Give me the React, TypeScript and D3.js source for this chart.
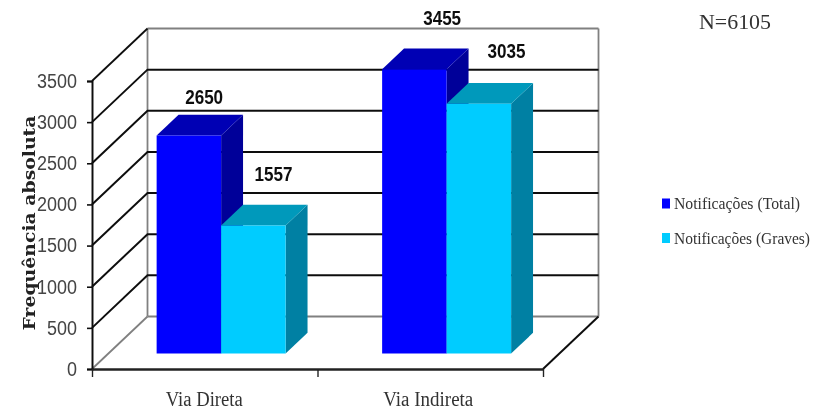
import React, { useRef, useEffect } from "react";
import * as d3 from "d3";

const categories = ["Via Direta", "Via Indireta"];
const seriesNames = ["Notificações (Total)", "Notificações (Graves)"];
const totalValues = [2650, 3455];
const gravesValues = [1557, 3035];
const yTicks = [0, 500, 1000, 1500, 2000, 2500, 3000, 3500];
const seriesColors = [
  { front: "#0000ff", top: "#0000b4", side: "#000099" },
  { front: "#00ccff", top: "#0099bb", side: "#0080a3" },
];

const width = 825;
const height = 411;
// 3d box depth, in pixels
const depthX = 55.5;
const depthY = 52.5;
const barDepthStart = 0.295;
const barDepthEnd = 0.69;

// the value labels were hand placed in the original chart, so each has its own
// nudge from the bar's left edge (x) and from the back of its top face (y)
const labelNudge = [
  [
    [47.5, -11],
    [60, -23],
  ],
  [
    [52.5, -24],
    [60, -25.5],
  ],
];

const App = () => {
  const svgRef = useRef<SVGSVGElement>(null);

  useEffect(() => {
    const svg = d3.select(svgRef.current);
    svg.selectAll("*").remove();

    const x = d3.scaleBand().domain(categories).range([92, 543]);
    const y = d3.scaleLinear().domain([0, 3500]).range([369, 81]);
    const sub = d3
      .scaleBand()
      .domain(seriesNames)
      .range([x.bandwidth() * 0.214, x.bandwidth() * 0.786]);

    // project a point from chart space, depth 0 is the front and 1 the back wall
    const px = (xv: number, d: number) => xv + d * depthX;
    const py = (v: number, d: number) => y(v) - d * depthY;
    const poly = d3.line();

    const root = svg.append("g").attr("filter", "url(#soft)");
    const defs = svg.append("defs");
    defs
      .append("filter")
      .attr("id", "soft")
      .append("feGaussianBlur")
      .attr("stdDeviation", 0.5);

    const x0 = 92;
    const x1 = 543;

    // back wall and floor
    const greyLine = (a: number[], b: number[]) =>
      root
        .append("line")
        .attr("x1", a[0])
        .attr("y1", a[1])
        .attr("x2", b[0])
        .attr("y2", b[1])
        .attr("stroke", "#808080")
        .attr("stroke-width", 1.8);

    greyLine([px(x0, 1), py(0, 1)], [px(x0, 1), py(3500, 1)]);
    greyLine([px(x1, 1), py(0, 1)], [px(x1, 1), py(3500, 1)]);
    greyLine([px(x0, 1), py(3500, 1)], [px(x1, 1), py(3500, 1)]);
    greyLine([px(x0, 1), py(0, 1)], [px(x1, 1), py(0, 1)]);
    greyLine([x0, y(0)], [px(x0, 1), py(0, 1)]);

    // grid, running along the left wall then the back wall
    yTicks
      .filter((t) => t > 0 && t < 3500)
      .forEach((t) => {
        root
          .append("path")
          .attr(
            "d",
            poly([
              [x0, y(t)],
              [px(x0, 1), py(t, 1)],
              [px(x1, 1), py(t, 1)],
            ])
          )
          .attr("fill", "none")
          .attr("stroke", "#111")
          .attr("stroke-width", 2);
      });
    root
      .append("line")
      .attr("x1", x0)
      .attr("y1", y(3500))
      .attr("x2", px(x0, 1))
      .attr("y2", py(3500, 1))
      .attr("stroke", "#111")
      .attr("stroke-width", 1.8);
    root
      .append("line")
      .attr("x1", x1)
      .attr("y1", y(0))
      .attr("x2", px(x1, 1))
      .attr("y2", py(0, 1))
      .attr("stroke", "#111")
      .attr("stroke-width", 2);

    // bars
    const drawBar = (cat: string, s: number, value: number) => {
      const name = seriesNames[s];
      const left = x(cat) + sub(name);
      const right = left + sub.bandwidth();
      const c = seriesColors[s];
      const a = barDepthStart;
      const b = barDepthEnd;
      const face = (pts: [number, number][], fill: string) =>
        root
          .append("path")
          .attr("d", poly(pts) + "Z")
          .attr("fill", fill);

      face(
        [
          [px(right, a), py(0, a)],
          [px(right, b), py(0, b)],
          [px(right, b), py(value, b)],
          [px(right, a), py(value, a)],
        ],
        c.side
      );
      face(
        [
          [px(left, a), py(value, a)],
          [px(right, a), py(value, a)],
          [px(right, b), py(value, b)],
          [px(left, b), py(value, b)],
        ],
        c.top
      );
      face(
        [
          [px(left, a), py(0, a)],
          [px(right, a), py(0, a)],
          [px(right, a), py(value, a)],
          [px(left, a), py(value, a)],
        ],
        c.front
      );
    };
    const drawLabel = (cat: string, s: number, value: number, i: number) => {
      const left = px(x(cat) + sub(seriesNames[s]), barDepthStart);
      root
        .append("text")
        .attr("x", left + labelNudge[s][i][0])
        .attr("y", py(value, barDepthEnd) + labelNudge[s][i][1])
        .attr("text-anchor", "middle")
        .attr("font-family", "Liberation Sans")
        .attr("font-weight", "bold")
        .attr("font-size", 21)
        .attr("textLength", 38)
        .attr("lengthAdjust", "spacingAndGlyphs")
        .attr("fill", "#111")
        .text(value);
    };
    categories.forEach((cat, i) => {
      drawBar(cat, 0, totalValues[i]);
      drawBar(cat, 1, gravesValues[i]);
    });
    categories.forEach((cat, i) => {
      drawLabel(cat, 0, totalValues[i], i);
      drawLabel(cat, 1, gravesValues[i], i);
    });

    // y axis
    const yAxis = root
      .append("g")
      .attr("transform", `translate(${x0},0)`)
      .call(d3.axisLeft(y).tickValues(yTicks).tickSize(5).tickPadding(10).tickFormat(d3.format("d")));
    yAxis.select(".domain").attr("stroke", "#111").attr("stroke-width", 2);
    yAxis.selectAll("line").attr("stroke", "#111").attr("stroke-width", 1.6);
    yAxis
      .selectAll("text")
      .attr("font-family", "Liberation Sans")
      .attr("font-size", 20)
      .attr("textLength", (d: number) => String(d).length * 10)
      .attr("lengthAdjust", "spacingAndGlyphs")
      .attr("fill", "#444");

    // x axis, ticks sit on the category boundaries
    const boundaries = [x0, ...categories.map((c) => x(c) + x.bandwidth())];
    const xLine = d3.scaleLinear().domain([x0, x1]).range([x0, x1]);
    const xAxis = root
      .append("g")
      .attr("transform", `translate(0,${y(0)})`)
      .call(d3.axisBottom(xLine).tickValues(boundaries).tickSize(8).tickSizeOuter(0).tickFormat(() => ""));
    xAxis.select(".domain").attr("stroke", "#222").attr("stroke-width", 2.4);
    xAxis.selectAll("line").attr("stroke", "#222").attr("stroke-width", 1.4);

    categories.forEach((cat, i) => {
      root
        .append("text")
        .attr("x", x(cat) + x.bandwidth() / 2 + (i === 0 ? -0.5 : -2))
        .attr("y", 406)
        .attr("text-anchor", "middle")
        .attr("font-family", "Liberation Serif")
        .attr("font-size", 20)
        .attr("textLength", i === 0 ? 77 : 90)
        .attr("lengthAdjust", "spacingAndGlyphs")
        .attr("fill", "#333")
        .text(cat);
    });

    // axis title
    root
      .append("text")
      .attr("transform", "translate(35,223) rotate(-90)")
      .attr("text-anchor", "middle")
      .attr("font-family", "DejaVu Serif")
      .attr("font-weight", "bold")
      .attr("font-size", 16)
      .attr("textLength", 215)
      .attr("lengthAdjust", "spacingAndGlyphs")
      .attr("fill", "#222")
      .text("Frequência absoluta");

    root
      .append("text")
      .attr("x", 699)
      .attr("y", 29)
      .attr("font-family", "Liberation Serif")
      .attr("font-size", 22)
      .attr("textLength", 72)
      .attr("lengthAdjust", "spacingAndGlyphs")
      .attr("fill", "#333")
      .text("N=6105");

    // legend
    const legendRows = [203.5, 238];
    const legendWidths = [126, 136];
    seriesNames.forEach((name, i) => {
      root
        .append("rect")
        .attr("x", 662)
        .attr("y", legendRows[i] - 5)
        .attr("width", 8)
        .attr("height", 10)
        .attr("fill", seriesColors[i].front);
      root
        .append("text")
        .attr("x", 674)
        .attr("y", legendRows[i] + 5.5)
        .attr("font-family", "Liberation Serif")
        .attr("font-size", 16)
        .attr("textLength", legendWidths[i])
        .attr("lengthAdjust", "spacingAndGlyphs")
        .attr("fill", "#333")
        .text(name);
    });
  }, []);

  return (
    <svg
      ref={svgRef}
      width={width}
      height={height}
      style={{ position: "absolute", left: 0, top: 0, background: "#fff" }}
    />
  );
};

export default App;
